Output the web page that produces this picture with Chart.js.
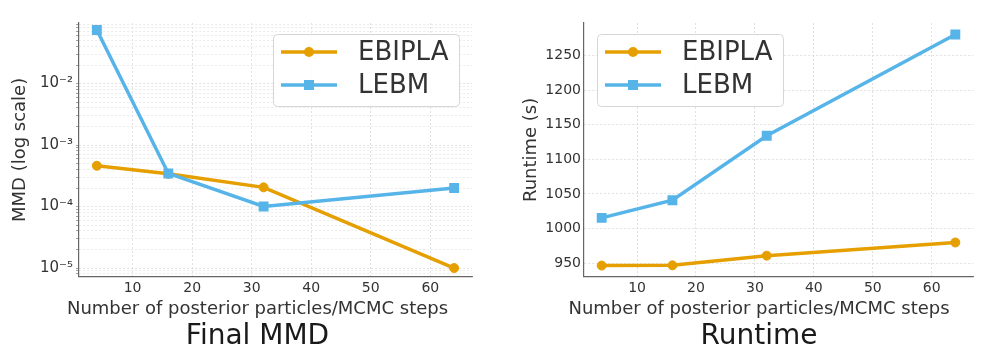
<!DOCTYPE html>
<html>
<head>
<meta charset="utf-8">
<script src="https://cdn.jsdelivr.net/npm/chart.js@4.4.1/dist/chart.umd.min.js"></script>
<style>
    html, body { margin: 0; padding: 0; background: #fff; }
    body { width: 997px; height: 361px; position: relative; overflow: hidden; }
    .panel { position: absolute; top: 0; height: 361px; }
    #mmdPanel { left: 0; width: 515px; }
    #runtimePanel { left: 521px; width: 476px; }
</style>
</head>
<body>
<div class="panel" id="mmdPanel"><canvas id="mmdChart"></canvas></div>
<div class="panel" id="runtimePanel"><canvas id="runtimeChart"></canvas></div>
<script>
const STEPS = [4, 16, 32, 64];
const SERIES_NAMES = ['EBIPLA', 'LEBM'];
const MMD_EBIPLA = [4.6e-4, 3.4e-4, 2.05e-4, 1.0e-5];
const MMD_LEBM = [7.4e-2, 3.45e-4, 1.0e-4, 2.0e-4];
const RUNTIME_EBIPLA = [946.7, 947, 961, 980];
const RUNTIME_LEBM = [1015.5, 1041, 1134, 1280];
const X_TICKS = [10, 20, 30, 40, 50, 60];
const MMD_DECADES = [-6, -5, -4, -3, -2];
const RUNTIME_TICKS = [950, 1000, 1050, 1100, 1150, 1200, 1250];

const COLORS = ['#E69F00', '#56B4E9'];
const TEXT_COLOR = '#333333';
const GRID_MAJOR = '#d9d9d9';
const GRID_MINOR = '#e6e6e6';
const SUP = { '-': '\u207B', '0': '\u2070', '1': '\u00B9', '2': '\u00B2', '3': '\u00B3',
              '4': '\u2074', '5': '\u2075', '6': '\u2076', '7': '\u2077', '8': '\u2078', '9': '\u2079' };

Chart.defaults.font.family = "'DejaVu Sans', sans-serif";
Chart.defaults.color = TEXT_COLOR;

function isDecade(v) {
    const e = Math.log10(v);
    return Math.abs(e - Math.round(e)) < 1e-9;
}

function powLabel(v) {
    const e = String(Math.round(Math.log10(v)));
    return '10' + e.split('').map(c => SUP[c]).join('');
}

function logTicks(min, max) {
    const ticks = [];
    MMD_DECADES.forEach(exp => {
        for (let k = 1; k <= 9; k++) {
            const v = k * Math.pow(10, exp);
            if (v >= min && v <= max) ticks.push({ value: v, major: k === 1 });
        }
    });
    return ticks;
}

function points(values) {
    return STEPS.map((x, i) => ({ x, y: values[i] }));
}

function makeDatasets(ebipla, lebm) {
    return [
        {
            label: SERIES_NAMES[0],
            data: points(ebipla),
            borderColor: COLORS[0],
            backgroundColor: COLORS[0],
            borderWidth: 3.5,
            pointStyle: 'circle',
            pointRadius: 4.5,
            pointBorderWidth: 1,
            tension: 0,
            order: 1,
        },
        {
            label: SERIES_NAMES[1],
            data: points(lebm),
            borderColor: COLORS[1],
            backgroundColor: COLORS[1],
            borderWidth: 3.5,
            pointStyle: 'rect',
            pointRadius: 7,
            pointBorderWidth: 0,
            tension: 0,
            order: 0,
        }
    ];
}

// legend box drawn inside the plot, matplotlib style
const insideLegend = {
    id: 'insideLegend',
    afterDatasetsDraw(chart, args, opts) {
        const { ctx, chartArea } = chart;
        const w = 186, h = 72;
        const x = opts.side === 'right' ? chartArea.right - 13 - w : chartArea.left + 13;
        const y = chartArea.top + 11;
        ctx.save();
        ctx.beginPath();
        ctx.roundRect(x + 0.5, y + 0.5, w, h, 4);
        ctx.fillStyle = 'rgba(255,255,255,0.9)';
        ctx.fill();
        ctx.strokeStyle = '#d6d6d6';
        ctx.lineWidth = 1;
        ctx.stroke();
        chart.data.datasets.forEach((ds, i) => {
            const cy = y + 18 + i * 33;
            ctx.strokeStyle = ds.borderColor;
            ctx.lineWidth = 3.5;
            ctx.beginPath();
            ctx.moveTo(x + 8, cy);
            ctx.lineTo(x + 64, cy);
            ctx.stroke();
            ctx.fillStyle = ds.backgroundColor;
            ctx.beginPath();
            if (ds.pointStyle === 'rect') {
                ctx.rect(x + 31, cy - 5, 10, 10);
            } else {
                ctx.arc(x + 36, cy, 5, 0, Math.PI * 2);
            }
            ctx.fill();
            ctx.fillStyle = TEXT_COLOR;
            ctx.font = "26px 'DejaVu Sans', sans-serif";
            ctx.textBaseline = 'middle';
            ctx.textAlign = 'left';
            ctx.fillText(ds.label, x + 85, cy + 1);
        });
        ctx.restore();
    }
};

function baseOptions(cfg) {
    return {
        responsive: true,
        maintainAspectRatio: false,
        animation: false,
        layout: { padding: { top: 23, left: 0, right: 0, bottom: 0 } },
        plugins: {
            legend: { display: false },
            tooltip: { enabled: false },
            insideLegend: { side: cfg.legendSide },
            subtitle: {
                display: true,
                text: 'Number of posterior particles/MCMC steps',
                position: 'bottom',
                color: TEXT_COLOR,
                font: { size: 18, weight: 'normal' },
                padding: { top: 2, bottom: 0 }
            },
            title: {
                display: true,
                text: cfg.title,
                position: 'bottom',
                color: '#1a1a1a',
                font: { size: 28, weight: 'normal' },
                padding: { top: 0, bottom: 7 }
            }
        },
        scales: {
            x: {
                type: 'linear',
                min: 1,
                max: 67,
                bounds: 'data',
                afterBuildTicks: axis => { axis.ticks = X_TICKS.map(v => ({ value: v })); },
                afterFit: axis => { axis.height = 20; },
                ticks: { padding: 3, font: { size: 14 }, color: TEXT_COLOR, autoSkip: false, maxRotation: 0 },
                grid: { color: GRID_MAJOR, lineWidth: 0.8, drawTicks: false },
                border: { color: '#666', width: 1.2, dash: [2, 2] }
            },
            y: cfg.y,
            padRight: {
                type: 'linear',
                position: 'right',
                display: true,
                grid: { display: false, drawTicks: false },
                border: { display: false },
                ticks: { display: false },
                afterFit: axis => { axis.width = cfg.padRight; }
            }
        }
    };
}

new Chart(document.getElementById('mmdChart'), {
    type: 'line',
    data: { datasets: makeDatasets(MMD_EBIPLA, MMD_LEBM) },
    plugins: [insideLegend],
    options: baseOptions({
        title: 'Final MMD',
        legendSide: 'right',
        padRight: 43,
        y: {
            type: 'logarithmic',
            min: 7.2e-6,
            max: 0.0964,
            bounds: 'data',
            afterBuildTicks: axis => { axis.ticks = logTicks(axis.min, axis.max); },
            afterFit: axis => { axis.width = 79; },
            ticks: {
                padding: 3,
                font: { size: 15 },
                color: TEXT_COLOR,
                autoSkip: false,
                callback: v => isDecade(v) ? powLabel(v) : ''
            },
            grid: {
                color: ctx => (ctx.tick && isDecade(ctx.tick.value)) ? GRID_MAJOR : GRID_MINOR,
                lineWidth: 0.8,
                drawTicks: true,
                tickLength: 3,
                tickColor: '#888',
                tickWidth: 0.8
            },
            border: { color: '#666', width: 1.2, dash: [2, 2] },
            title: {
                display: true,
                text: 'MMD (log scale)',
                color: TEXT_COLOR,
                font: { size: 18 },
                padding: { top: 10, bottom: 0 }
            }
        }
    })
});

new Chart(document.getElementById('runtimeChart'), {
    type: 'line',
    data: { datasets: makeDatasets(RUNTIME_EBIPLA, RUNTIME_LEBM) },
    plugins: [insideLegend],
    options: baseOptions({
        title: 'Runtime',
        legendSide: 'left',
        padRight: 24,
        y: {
            type: 'linear',
            min: 930.5,
            max: 1296.7,
            bounds: 'data',
            afterBuildTicks: axis => { axis.ticks = RUNTIME_TICKS.map(v => ({ value: v })); },
            afterFit: axis => { axis.width = 63; },
            ticks: {
                padding: 3,
                font: { size: 14 },
                color: TEXT_COLOR,
                autoSkip: false,
                callback: v => String(v)
            },
            grid: { color: GRID_MAJOR, lineWidth: 0.8, drawTicks: false },
            border: { color: '#666', width: 1.2, dash: [2, 2] },
            title: {
                display: true,
                text: 'Runtime (s)',
                color: TEXT_COLOR,
                font: { size: 18 },
                padding: { top: 0, bottom: 0 }
            }
        }
    })
});
</script>
</body>
</html>
